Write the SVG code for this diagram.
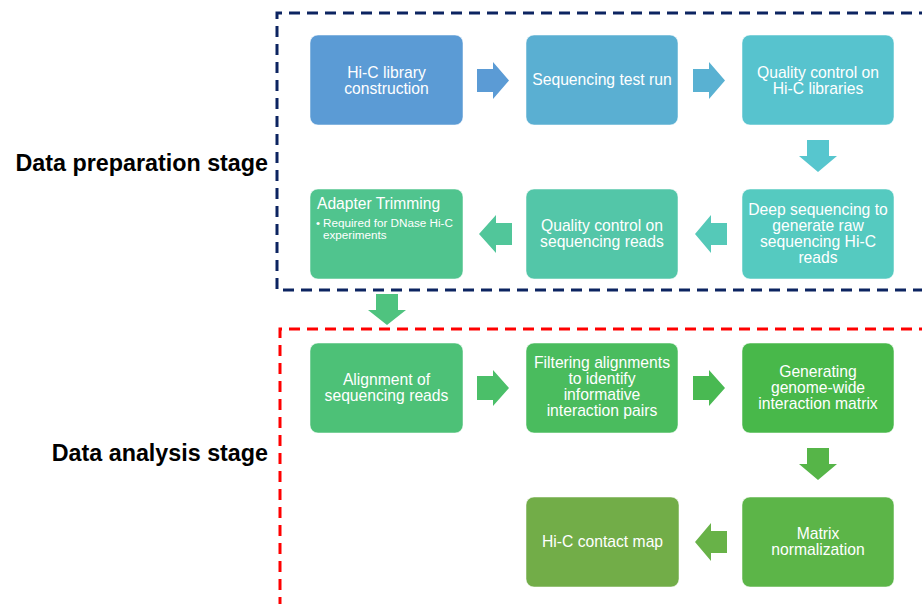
<svg xmlns="http://www.w3.org/2000/svg" width="922" height="604" viewBox="0 0 922 604">
<style>
.box{stroke:#ffffff;stroke-opacity:0.5;stroke-width:1}
.t{font-family:"Liberation Sans",Arial,sans-serif;font-size:15.7px;fill:#ffffff;text-anchor:middle}
.a{font-family:"Liberation Sans",Arial,sans-serif;fill:#ffffff}
.s{font-family:"Liberation Sans",Arial,sans-serif;font-size:23.3px;font-weight:bold;fill:#000000;text-anchor:end}
</style>
<rect width="922" height="604" fill="#ffffff"/>
<g id="stages">
<path d="M930,13 H277 V290 H930" fill="none" stroke="#0c2461" stroke-width="3" stroke-dasharray="11,7"/>
<path d="M930,329 H280 V610" fill="none" stroke="#ff0000" stroke-width="3" stroke-dasharray="11,7"/>
<text class="s" x="268" y="171">Data preparation stage</text>
<text class="s" x="268" y="461">Data analysis stage</text>
</g>
<g id="connectors">
<polygon points="477,69 493,69 493,62 509,80.5 493,99 493,92 477,92" fill="#5b9bd5"/>
<polygon points="693,69 709,69 709,62 725,80.5 709,99 709,92 693,92" fill="#59b1d2"/>
<polygon points="807,140 829,140 829,156 837,156 818,172 799,156 807,156" fill="#57c6ce"/>
<polygon points="727,223 711,223 711,215 695,234 711,253 711,245 727,245" fill="#55c9b8"/>
<polygon points="512,223 496,223 496,215 479,234 496,253 496,245 512,245" fill="#51c69a"/>
<polygon points="376,294 398,294 398,310 406,310 387,325 368,310 376,310" fill="#4fc37f"/>
<polygon points="477,376 493,376 493,370 509,388 493,406 493,400 477,400" fill="#4bbf69"/>
<polygon points="693,376 709,376 709,370 725,388 709,406 709,400 693,400" fill="#49b952"/>
<polygon points="807,448 829,448 829,464 837,464 818,480 799,464 807,464" fill="#56b548"/>
<polygon points="727,531 711,531 711,523 695,542 711,561 711,553 727,553" fill="#68b248"/>
</g>
<g id="n1"><rect class="box" x="310" y="35" width="153" height="90" rx="8" fill="#5b9bd5"/>
<text class="t" x="386.5" y="78">Hi-C library</text><text class="t" x="386.5" y="94">construction</text></g>
<g id="n2"><rect class="box" x="526" y="35" width="152" height="90" rx="8" fill="#5aafd2"/>
<text class="t" x="602" y="85">Sequencing test run</text></g>
<g id="n3"><rect class="box" x="742" y="35" width="152" height="90" rx="8" fill="#57c3ce"/>
<text class="t" x="818" y="78">Quality control on</text><text class="t" x="818" y="94">Hi-C libraries</text></g>
<g id="n4"><rect class="box" x="742" y="189" width="152" height="90" rx="8" fill="#55cac0"/>
<text class="t" x="818" y="215">Deep sequencing to</text><text class="t" x="818" y="231">generate raw</text><text class="t" x="818" y="247">sequencing Hi-C</text><text class="t" x="818" y="263">reads</text></g>
<g id="n5"><rect class="box" x="526" y="189" width="152" height="90" rx="8" fill="#53c6a8"/>
<text class="t" x="602" y="231">Quality control on</text><text class="t" x="602" y="247">sequencing reads</text></g>
<g id="n6"><rect class="box" x="310" y="189" width="153" height="90" rx="8" fill="#50c48e"/>
<text class="a" x="317" y="209" font-size="15.6">Adapter Trimming</text>
<text class="a" x="316" y="227" font-size="11.5">•</text>
<text class="a" x="323" y="227" font-size="11.7">Required for DNase Hi-C</text>
<text class="a" x="323" y="239" font-size="11.7">experiments</text></g>
<g id="n7"><rect class="box" x="310" y="343" width="153" height="90" rx="8" fill="#4dc177"/>
<text class="t" x="386.5" y="385">Alignment of</text><text class="t" x="386.5" y="401">sequencing reads</text></g>
<g id="n8"><rect class="box" x="526" y="343" width="152" height="90" rx="8" fill="#4abc5e"/>
<text class="t" x="602" y="368">Filtering alignments</text><text class="t" x="602" y="384">to identify</text><text class="t" x="602" y="400">informative</text><text class="t" x="602" y="416">interaction pairs</text></g>
<g id="n9"><rect class="box" x="742" y="343" width="152" height="90" rx="8" fill="#48b84a"/>
<text class="t" x="818" y="377">Generating</text><text class="t" x="818" y="393">genome-wide</text><text class="t" x="818" y="409">interaction matrix</text></g>
<g id="n10"><rect class="box" x="742" y="497" width="152" height="90" rx="8" fill="#5cb548"/>
<text class="t" x="818" y="539">Matrix</text><text class="t" x="818" y="555">normalization</text></g>
<g id="n11"><rect class="box" x="526" y="497" width="153" height="90" rx="8" fill="#72ad48"/>
<text class="t" x="602.5" y="547">Hi-C contact map</text></g>
</svg>
